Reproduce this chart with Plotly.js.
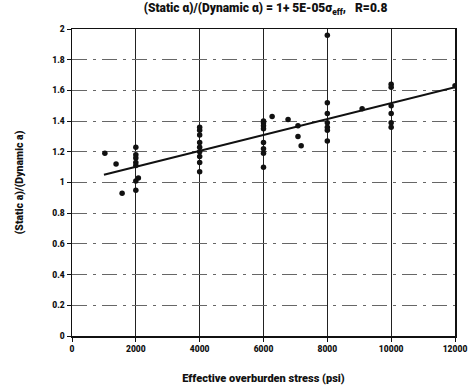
<!DOCTYPE html>
<html><head><meta charset="utf-8">
<script src="https://cdn.plot.ly/plotly-3.0.1.min.js"></script>
<style>html,body{margin:0;padding:0;background:#fff}#c{width:470px;height:389px}</style>
</head><body><div id="c"></div>
<script>
const stressX = [1030,1380,1570,
  2000,2000,2000,2000,2000,2000,2000,2080,
  4000,4000,4000,4000,4000,4000,4000,4000,4000,
  6000,6000,6000,6000,6000,6000,6000,6000,6270,6770,7080,7080,7180,
  8000,8000,8000,8000,8000,8000,8000,9090,
  10000,10000,10000,10000,10000,10000,12000];
const ratioY = [1.19,1.12,0.93,
  1.23,1.18,1.16,1.13,1.11,1.01,0.95,1.03,
  1.36,1.34,1.31,1.26,1.23,1.20,1.17,1.13,1.07,
  1.39,1.37,1.35,1.40,1.26,1.22,1.19,1.10,1.43,1.41,1.37,1.30,1.24,
  1.96,1.52,1.45,1.39,1.36,1.34,1.27,1.48,
  1.64,1.62,1.50,1.45,1.39,1.36,1.63];
const fitX = [1000, 12000];
const fitY = [1.05, 1.62];
const xTicks = [0,2000,4000,6000,8000,10000,12000];
const yTicks = [0,0.2,0.4,0.6,0.8,1,1.2,1.4,1.6,1.8,2];

const fam = 'Roboto, Liberation Sans, Arial, sans-serif';
const bold = (s) => ({family:fam, size:s, color:'#111', weight:900});
Plotly.newPlot('c', [
  {x:fitX, y:fitY, mode:'lines', line:{color:'#111', width:2}, hoverinfo:'skip'},
  {x:stressX, y:ratioY, mode:'markers', marker:{color:'#111', size:5.5}}
], {
  width:470, height:389,
  margin:{l:72, r:15, t:29, b:53},
  showlegend:false,
  paper_bgcolor:'#fff', plot_bgcolor:'#fff',
  font:{family:fam, size:8, color:'#111', weight:900},
  title:{text:'(Static α)/(Dynamic α) = 1+ 5E-05σ<sub>eff</sub>,   R=0.8', font:bold(12), x:0.565, xanchor:'center', y:0.99, yanchor:'top'},
  xaxis:{range:[0,12000], tickvals:xTicks, ticktext:xTicks.map(String), tickfont:bold(8.5),
    showgrid:true, gridcolor:'#222', gridwidth:1.3, zeroline:false,
    showline:true, linecolor:'#111', linewidth:1.5, mirror:true, ticks:'outside', ticklen:4, tickcolor:'#111',
    title:{text:'Effective overburden stress (psi)', font:bold(11), standoff:21}},
  yaxis:{range:[0,2], tickvals:yTicks, ticktext:yTicks.map(String), tickfont:bold(8.5),
    showgrid:true, gridcolor:'#666', gridwidth:1, griddash:'longdashdot', zeroline:false,
    showline:true, linecolor:'#111', linewidth:1.5, mirror:true, ticks:'outside', ticklen:4, tickcolor:'#111',
    title:{text:'(Static a)/(Dynamic a)', font:bold(10.5), standoff:26}}
}, {staticPlot:true});
</script></body></html>
